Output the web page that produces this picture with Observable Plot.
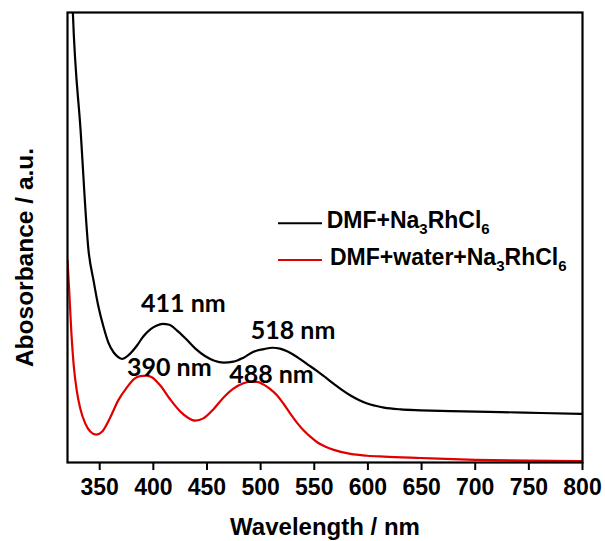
<!DOCTYPE html>
<html>
<head>
<meta charset="utf-8">
<script src="https://cdn.jsdelivr.net/npm/d3@7"></script>
<script src="https://cdn.jsdelivr.net/npm/@observablehq/plot@0.6"></script>
<style>
  body { margin: 0; background: #fff; }
  #chart svg { display: block; }
</style>
</head>
<body>
<div id="chart"></div>
<script>
// DMF + Na3RhCl6 (black)
const blackWl = [324.4, 325.0, 332.2, 339.6, 344.3, 348.6, 353.6, 358.0, 362.9, 366.4, 370.8, 376.6, 384.8, 390.6, 397.2, 402.8, 408.8, 414.9, 422.1, 429.8, 439.2, 448.5, 456.9, 465.6, 474.6, 484.0, 493.3, 503.0, 511.0, 518.0, 524.7, 531.0, 537.2, 545.0, 552.7, 560.5, 568.2, 576.1, 583.8, 591.6, 599.4, 607.0, 614.9, 630.5, 649.1, 677.1, 723.8, 761.1, 800];
const blackAbs = [1.04, 1.000, 0.738, 0.471, 0.404, 0.349, 0.301, 0.267, 0.245, 0.236, 0.230, 0.238, 0.260, 0.280, 0.296, 0.304, 0.308, 0.306, 0.293, 0.276, 0.253, 0.236, 0.226, 0.222, 0.224, 0.233, 0.246, 0.252, 0.255, 0.253, 0.247, 0.239, 0.229, 0.216, 0.203, 0.189, 0.175, 0.161, 0.149, 0.139, 0.131, 0.126, 0.122, 0.118, 0.116, 0.114, 0.112, 0.110, 0.108];
// DMF + water + Na3RhCl6 (red)
const redWl = [320, 321.6, 323.5, 325.8, 328.6, 331.9, 336.5, 341.2, 346.8, 352.4, 359.8, 367.3, 375.4, 382.2, 387.8, 393.4, 399.0, 406.5, 415.8, 425.2, 432.6, 439.2, 446.6, 455.9, 465.3, 474.6, 484.0, 491.0, 497.0, 502.9, 509.0, 515.4, 521.5, 527.8, 534.0, 540.2, 546.5, 552.7, 560.5, 568.2, 583.8, 599.4, 614.9, 649.1, 700, 750, 800];
const redAbs = [0.449, 0.382, 0.293, 0.216, 0.160, 0.120, 0.087, 0.069, 0.062, 0.069, 0.100, 0.138, 0.167, 0.186, 0.192, 0.193, 0.189, 0.171, 0.140, 0.113, 0.099, 0.093, 0.098, 0.118, 0.144, 0.164, 0.176, 0.180, 0.179, 0.173, 0.163, 0.149, 0.130, 0.108, 0.088, 0.071, 0.057, 0.045, 0.035, 0.028, 0.019, 0.015, 0.013, 0.010, 0.006, 0.004, 0.003];
// peak annotations
const peakText = ["411 nm", "518 nm", "390 nm", "488 nm"];
const peakWl = [428.0, 530.2, 414.9, 510.1];
const peakAbs = [0.353, 0.292, 0.210, 0.195];
// axis ticks
const xTicks = [350, 400, 450, 500, 550, 600, 650, 700, 750, 800];
const seriesNames = ["DMF+Na", "DMF+water+Na"];
const seriesColors = ["#000000", "#e00000"];

const black = blackWl.map((w, i) => ({wl: w, a: blackAbs[i]}));
const red = redWl.map((w, i) => ({wl: w, a: redAbs[i]}));
const peaks = peakText.map((t, i) => ({t, wl: peakWl[i], a: peakAbs[i]}));

const plot = Plot.plot({
  width: 605,
  height: 541,
  marginLeft: 67,
  marginRight: 23,
  marginTop: 12,
  marginBottom: 79,
  style: {fontFamily: "'Liberation Sans', Arial, sans-serif", fontSize: "23px", fontWeight: "bold", color: "#000", background: "#fff"},
  x: {domain: [320, 800]},
  y: {domain: [0, 1], axis: null},
  marks: [
    Plot.line(red, {x: "wl", y: "a", stroke: seriesColors[1], strokeWidth: 2.2, curve: "monotone-x", clip: true}),
    Plot.line(black, {x: "wl", y: "a", stroke: seriesColors[0], strokeWidth: 2.2, curve: "monotone-x", clip: true}),
    Plot.frame({stroke: "#000", strokeWidth: 2.2}),
    Plot.axisX({ticks: xTicks, tickSize: 8, tickPadding: 8, strokeWidth: 2, label: null, fontSize: 23}),
    Plot.text(peaks, {x: "wl", y: "a", text: "t", fontFamily: "Lato, sans-serif", fontSize: 25, fontWeight: "bold", textAnchor: "middle", lineAnchor: "middle", fill: "#000"}),
    Plot.text(["Wavelength / nm"], {frameAnchor: "bottom", dy: 64.5, lineAnchor: "middle", fontSize: 24, fontWeight: "bold"}),
    Plot.text(["Abosorbance / a.u."], {frameAnchor: "left", dx: -42, dy: 20, rotate: -90, lineAnchor: "middle", textAnchor: "middle", fontSize: 24.5, fontWeight: "bold"})
  ]
});
document.getElementById("chart").appendChild(plot);

// legend
const svg = d3.select(plot);
const leg = svg.append("g").attr("font-family", "'Liberation Sans', Arial, sans-serif").attr("font-weight", "bold").attr("text-anchor", "start");
const legRows = [{y: 223.3, tx: 326.7, color: seriesColors[0], name: seriesNames[0]},
                 {y: 260, tx: 330, color: seriesColors[1], name: seriesNames[1]}];
legRows.forEach(r => {
  leg.append("line").attr("x1", 278).attr("x2", 322).attr("y1", r.y).attr("y2", r.y)
    .attr("stroke", r.color).attr("stroke-width", 2);
  const t = leg.append("text").attr("x", r.tx).attr("y", r.y + 5).attr("font-size", 23).attr("fill", "#000").attr("text-anchor", "start");
  t.append("tspan").text(r.name);
  t.append("tspan").attr("font-size", 15).attr("dy", 6).text("3");
  t.append("tspan").attr("dy", -6).text("RhCl");
  t.append("tspan").attr("font-size", 15).attr("dy", 6).text("6");
});
</script>
</body>
</html>
